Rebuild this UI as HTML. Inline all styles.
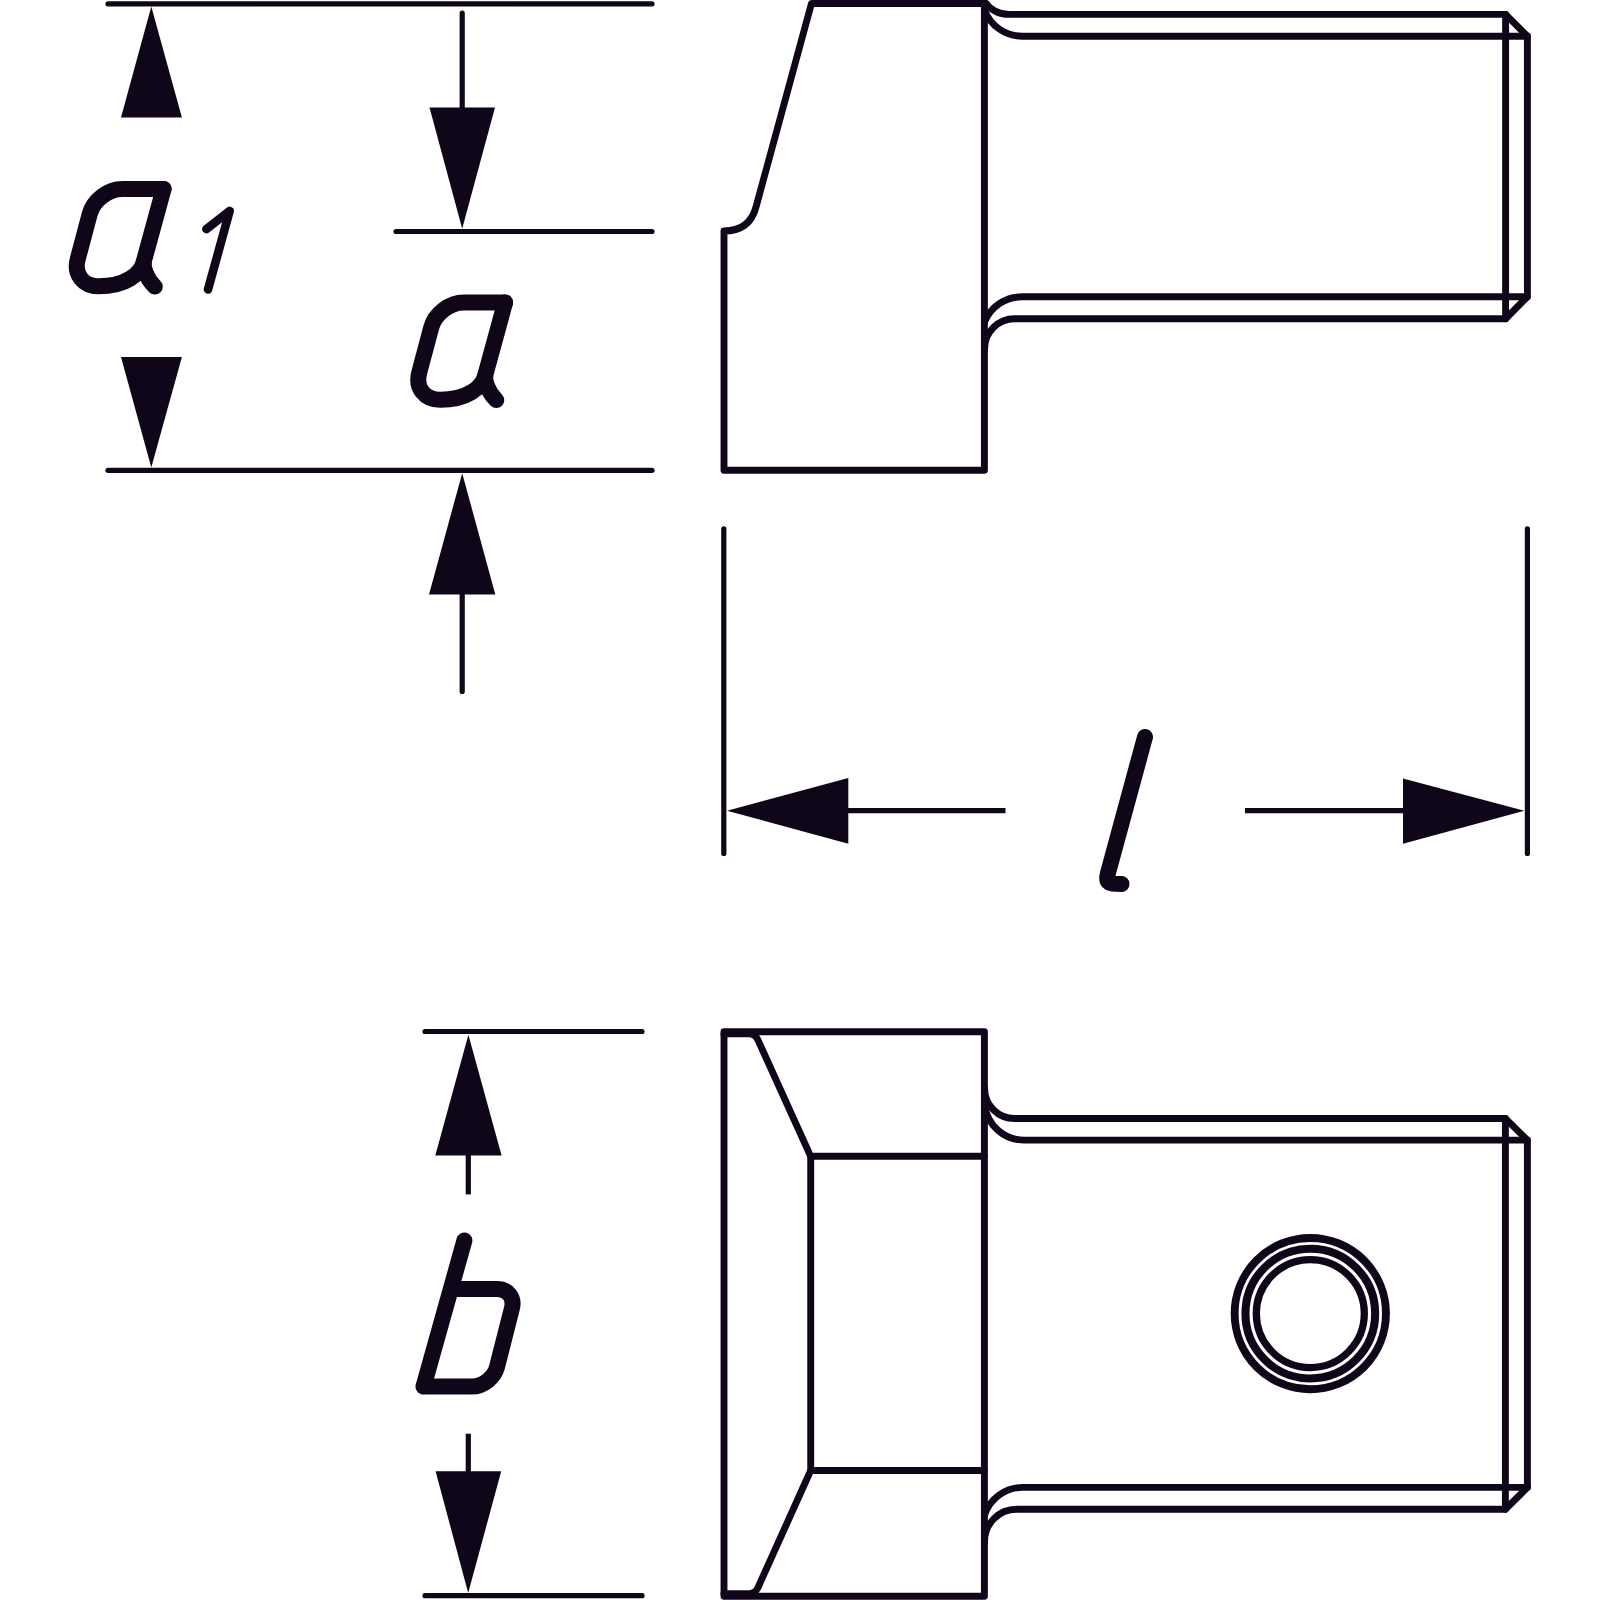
<!DOCTYPE html>
<html>
<head>
<meta charset="utf-8">
<style>
html,body{margin:0;padding:0;background:#fff;width:1600px;height:1600px;overflow:hidden;font-family:"Liberation Sans",sans-serif;}
svg{display:block;position:absolute;left:0;top:0;}
</style>
</head>
<body>
<svg width="1600" height="1600" viewBox="0 0 1600 1600">
<rect x="0" y="0" width="1600" height="1600" fill="#fff"/>
<g fill="none" stroke="#10061a" stroke-linecap="round" stroke-linejoin="round">

<!-- ===== dimension lines (thin) ===== -->
<g stroke-width="5.2">
  <!-- a1 extension lines -->
  <line x1="108" y1="3.8" x2="652" y2="3.8"/>
  <line x1="108" y1="470.3" x2="652" y2="470.3"/>
  <!-- a extension line -->
  <line x1="396" y1="231.5" x2="652" y2="231.5"/>
  <!-- a arrow stems -->
  <line x1="462.2" y1="13" x2="462.2" y2="110"/>
  <line x1="462.2" y1="590" x2="462.2" y2="691.5"/>
  <!-- l extension lines -->
  <line x1="723.8" y1="528.8" x2="723.8" y2="853.5"/>
  <line x1="1527.4" y1="528.8" x2="1527.4" y2="853.5"/>
  <!-- b extension lines -->
  <line x1="425" y1="1031.5" x2="642" y2="1031.5"/>
  <line x1="425" y1="1595.7" x2="642" y2="1595.7"/>
</g>
<g stroke-width="5.2" stroke-linecap="butt">
  <line x1="845" y1="810.7" x2="1005.5" y2="810.7"/>
  <line x1="1245" y1="810.7" x2="1406" y2="810.7"/>
  <line x1="468.3" y1="1150" x2="468.3" y2="1194.4"/>
  <line x1="468.3" y1="1433.7" x2="468.3" y2="1475"/>
</g>
</g>

<!-- ===== arrowheads ===== -->
<g fill="#10061a" stroke="none">
  <!-- a1 -->
  <polygon points="151.3,6.5 121,117.4 181.9,117.4"/>
  <polygon points="151.3,467.5 121,357 181.9,357"/>
  <!-- a -->
  <polygon points="462.2,228.8 429.5,107.5 495,107.5"/>
  <polygon points="462.2,473.2 429,594.5 495.3,594.5"/>
  <!-- l -->
  <polygon points="727,810.7 848.3,778 848.3,843.7"/>
  <polygon points="1524.4,810.7 1403,778.4 1403,843.7"/>
  <!-- b -->
  <polygon points="468.4,1034.7 435.3,1155.6 501.6,1155.6"/>
  <polygon points="468.2,1593 435.6,1471.3 501.2,1471.3"/>
</g>

<!-- ===== part outlines (thick) ===== -->
<g fill="none" stroke="#10061a" stroke-width="6.9" stroke-linecap="round" stroke-linejoin="round">
  <!-- TOP VIEW body -->
  <path d="M724,470.3 L724,231 C738,231 751,226 756,207 L811.5,3.45 L984.4,3.45 L984.4,470.3 Z"/>
  <!-- top view shaft edges -->
  <path d="M984.6,1.7 A30,30 0 0 0 1009.2,14.4 L1505.6,14.4 L1527.4,36.2 L1527.4,296.8 L1505.6,318.7 L1014.6,318.7 A30,30 0 0 0 984.6,348.7"/>
  <path d="M984.6,10.1 A40,40 0 0 0 1022.1,36.2 L1527.4,36.2"/>
  <path d="M1527.4,296.8 L1021.7,296.8 A40,40 0 0 0 984.6,321.8"/>
  <line x1="1505.6" y1="14.4" x2="1505.6" y2="318.7"/>

  <!-- BOTTOM VIEW body -->
  <path d="M724,1031.8 L984.4,1031.8 L984.4,1596.2 L724,1596.2 Z"/>
  <path d="M724,1033.9 L749,1033.9 C753,1033.9 756,1036.1 757.8,1039.6 L810.7,1156.3 L984.4,1156.3"/>
  <path d="M724,1593.7 L749,1593.7 C753,1593.7 756,1591.5 757.8,1588 L810.7,1470.5 L984.4,1470.5"/>
  <line x1="810.7" y1="1156.3" x2="810.7" y2="1470.5"/>
  <!-- bottom view shaft -->
  <path d="M984.6,1088.5 A30,30 0 0 0 1014.6,1118.5 L1505.4,1118.5 L1527.4,1140.1 L1527.4,1487.4 L1505.4,1509.3 L1016.6,1509.3 A32,32 0 0 0 984.6,1541.3"/>
  <path d="M984.6,1105 A40,40 0 0 0 1024.3,1140.1 L1527.4,1140.1"/>
  <path d="M1527.4,1487.4 L1022.6,1487.4 A40,40 0 0 0 984.6,1514.9"/>
  <line x1="1505.4" y1="1118.5" x2="1505.4" y2="1509.3"/>
</g>
<!-- hole -->
<g fill="none" stroke="#10061a">
  <circle cx="1310.3" cy="1313.6" r="75.65" stroke-width="7.9"/>
  <circle cx="1310.3" cy="1313.6" r="64.85" stroke-width="8.1"/>
  <circle cx="1310.3" cy="1313.6" r="54" stroke-width="7.3"/>
</g>

<!-- ===== letters ===== -->
<g fill="none" stroke="#10061a" stroke-linecap="round" stroke-linejoin="round">
  <!-- a (of a1) -->
  <g stroke-width="16">
    <path d="M163.6,189 L122.4,189 C108.05,189 93.4,200.2 89.7,214.1 L77.7,259.3 C73.73,274.2 83.04,286.3 98.5,286.3 C126,286.3 140.4,274 143.7,262"/>
    <path d="M163.6,189 L144.15,260.25 C142.6,266 145.5,277.5 154.8,286.6"/>
  </g>
  <!-- 1 -->
  <path stroke-width="8.6" d="M206.4,229.1 L229.7,210.9 L208,289.5"/>
  <!-- a -->
  <g stroke-width="16" transform="translate(341.5,113.5)">
    <path d="M163.6,189 L122.4,189 C108.05,189 93.4,200.2 89.7,214.1 L77.7,259.3 C73.73,274.2 83.04,286.3 98.5,286.3 C126,286.3 140.4,274 143.7,262"/>
    <path d="M163.6,189 L144.15,260.25 C142.6,266 145.5,277.5 154.8,286.6"/>
  </g>
  <!-- l -->
  <path stroke-width="16" d="M1145,737 L1108,873 C1105,884 1110,884 1121.5,884"/>
  <!-- b -->
  <path stroke-width="16" d="M464.4,1240.5 L423.5,1386.5 L472,1386.5 C483,1386.5 494.24,1377.8 497,1367.1 L511.9,1308.4 C514.66,1297.7 507.9,1289 496.9,1289 L450.8,1289"/>
</g>
</svg>
</body>
</html>
